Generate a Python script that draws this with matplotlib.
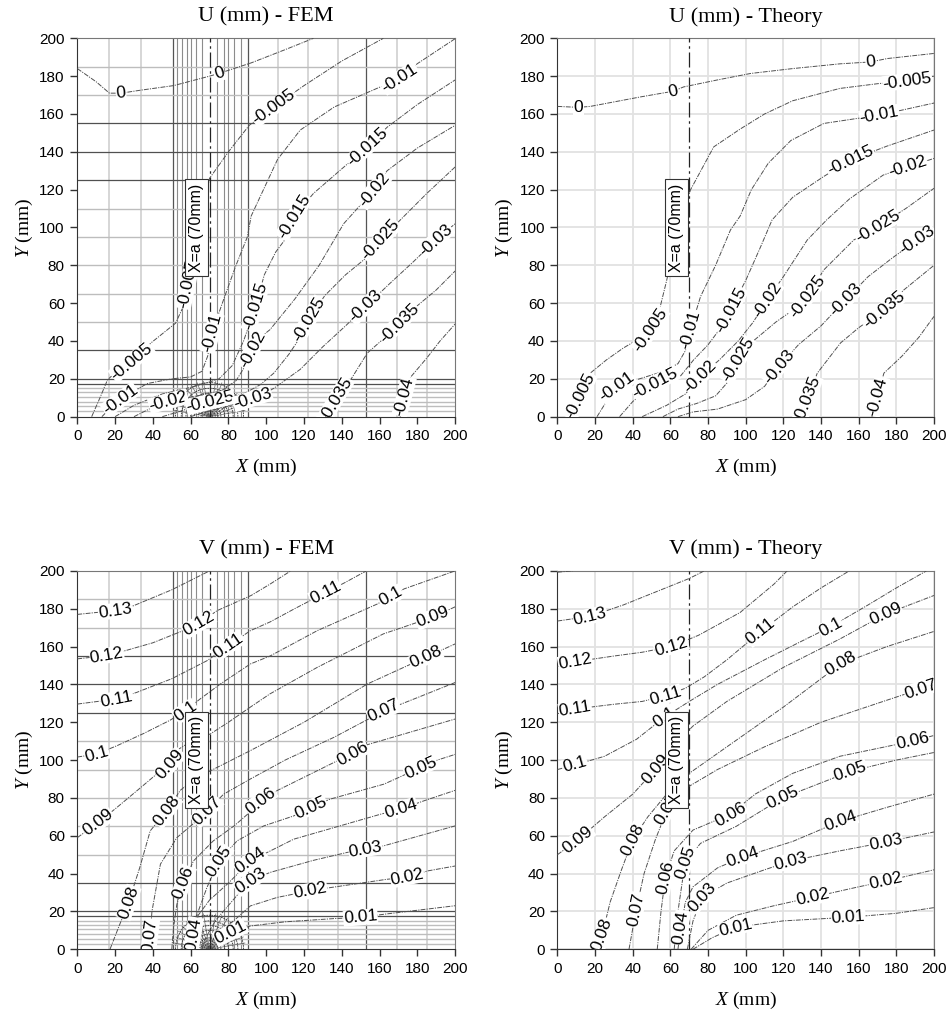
import numpy as np
import matplotlib.pyplot as plt

plt.rcParams['font.family'] = ['Liberation Sans', 'DejaVu Sans']
plt.rcParams['mathtext.fontset'] = 'custom'
plt.rcParams['mathtext.it'] = 'Liberation Serif:italic'
plt.rcParams['mathtext.rm'] = 'Liberation Serif'

# =========================================================
# Contour traces: level -> (x, y) in mm
# and the vertex index where each inline label sits
# =========================================================
u_fem = {
    "0": [(0,184),(10,177),(17,171),(23.2,171),(33,172.5),(51,175),(70,180),(75.2,181.5),(92,187),(110,194),(125,200)],
    "-0.005": [(7.6,0),(12,10),(16,19.5),(22,25),(28.8,29.2),(39,39),(52,49.4),(56,58),(58.5,70),(63,92),(70,126),(80,140),(91,154),(104,163.7),(120,175),(140,188),(162,200)],
    "-0.01": [(13,0),(17,4),(22.7,9),(30,13.5),(37,17.5),(50,20),(60,21),(66,24),(69,32),(71.3,44.2),(75,55),(78,63.5),(84,80),(90,95),(92,106),(106,136),(118,151.5),(136,163.7),(162,175),(170.7,178.9),(180,186.6),(200,199.8)],
    "-0.015": [(20,0),(30,6),(45,12),(58,15),(66,17),(75,20),(82,27),(88,40),(94.3,58.2),(99,75),(105,87),(111,95),(114.7,105.7),(125,118),(140,131),(153.5,142.6),(164,153),(180,165),(200,178)],
    "-0.02": [(30,0),(40,5),(48.2,8.2),(58,10),(66,11.5),(76,13.5),(84,19),(89,27),(92.5,35.4),(97,42),(102,46),(115,62),(128,80),(141,102),(157,119.8),(164,130),(180,142),(200,154)],
    "-0.025": [(45,0),(55,3),(62,5.5),(70.4,7.9),(78,9.5),(88,12),(97,17),(104,23),(112,33),(118,42),(122.5,51.2),(131,64),(142,75),(153,84),(160.6,93.4),(171,104),(185,118),(200,132)],
    "-0.03": [(60,0),(66,2),(72,3.5),(80,5.5),(87,8),(92.7,9.5),(98,11.5),(104,15),(118,25),(130,37),(142,48),(152.6,58.2),(165,70),(178,82),(189.8,93.4),(200,102)],
    "-0.035": [(133,0),(136.7,9),(145,20),(153.5,33.6),(163,42),(170.3,49.4),(178,57),(190,67),(200,77)],
    "-0.04": [(171,0),(173,10.7),(176.5,21),(185,31),(192,40),(200,49)],
}
u_fem_lab = {"0": [3, 7], "-0.005": [4, 8, 13], "-0.01": [2, 9, 19], "-0.015": [8, 12, 15],
             "-0.02": [2, 8, 14], "-0.025": [3, 10, 14], "-0.03": [5, 11, 14],
             "-0.035": [1, 5], "-0.04": [1]}

u_th = {
    "0": [(0,164),(11.2,163.5),(17.4,164),(44,169),(61.4,172),(67,174.3),(85,178),(102.5,181.4),(125,184),(150,186.5),(166.3,187.5),(175.2,189.3),(200,192)],
    "-0.005": [(5,0),(9,6),(12,11),(17.4,23),(26,30),(35,36.3),(43,41),(49.3,45.9),(54.6,58.2),(58,72),(63,95),(70.6,119.8),(83,142.6),(97,152),(110,160),(125,167),(150,173.5),(170,176),(185.8,177.5),(200,180)],
    "-0.01": [(21,0),(26,8),(31.6,16),(42,19.5),(56.4,24),(64,28),(68,35),(70.6,45.9),(76,63.5),(84,80),(91.9,98.7),(97,106),(103,120),(112,134),(124,146),(141.5,155),(171,159.4),(201,166)],
    "-0.015": [(33,0),(40,8),(52,17.8),(65.2,21.3),(72.3,30),(80,38),(86,46),(91.9,56.5),(100,72),(108,90),(114,104),(125,116),(141.5,127),(155.6,135.6),(175,143),(200,151.5)],
    "-0.02": [(45,0),(58,6),(68,12),(75.9,21.3),(86,30),(96,40),(104,50),(111.4,61.7),(120,74),(132.7,93.4),(143,104),(155,115),(173,127.7),(186,132),(200,136.5)],
    "-0.025": [(56,0),(64,4),(74,7),(84,11),(92,20),(96,30),(104,40),(116,50),(126,57),(132.7,63.5),(141.5,77.6),(157.4,93.4),(170,100.4),(185,110),(200,120.7)],
    "-0.03": [(64,0),(72,2.5),(85,4),(100,9),(110,16),(117.6,26.5),(128,38),(140,48),(153,61.7),(165,74),(178,84),(191.2,93.4),(200,99)],
    "-0.035": [(129,0),(132.7,9),(138,23),(150.4,39),(160,47),(173.4,56.5),(184,67),(200,80)],
    "-0.04": [(167,0),(169.9,10.7),(173.4,23),(183,32),(192,42),(200,53)],
}
u_th_lab = {"0": [1, 4, 10], "-0.005": [2, 7, 18], "-0.01": [2, 7, 16], "-0.015": [2, 7, 13],
            "-0.02": [3, 7, 13], "-0.025": [5, 9, 12], "-0.03": [5, 8, 11],
            "-0.035": [1, 5], "-0.04": [1]}

v_fem = {
    "0.13": [(0,177),(20,179),(29.8,181.6),(50,190),(68.6,199.3),(70,200)],
    "0.12": [(0,153.5),(15.6,155.2),(26,158),(40,162),(56,168.4),(64.2,172),(74,179),(92,187),(102,193),(113,200)],
    "0.11": [(0,129.6),(20.9,132.3),(31.5,135.8),(50,143),(68.6,152.5),(80.1,160.5),(91.6,168.4),(102,173),(115,180),(131.4,188.5),(142,194),(153,200)],
    "0.1": [(0,101.6),(10.3,103.2),(21,107.6),(35,114),(49,121),(57.1,126),(65,132.3),(75.7,140.2),(91.6,150.8),(102,155),(127,168.4),(158.8,182.5),(165.8,186.5),(173,190.5),(200,200)],
    "0.09": [(0,59),(11.1,67),(21,75),(33,85),(44,94.3),(49.2,97.9),(54,106),(62,111),(70.4,113.8),(80,120),(91.6,128),(102,135),(127,149),(162,166.7),(188,175.5),(200,181)],
    "0.08": [(17.3,0),(22,12),(27.1,24.7),(33,43),(38.6,62.6),(47.4,73.2),(54.5,84),(62,90),(70.4,94.3),(91.6,105),(120,120),(153.5,140.2),(184.4,154.3),(200,161.4)],
    "0.07": [(37,0),(38.6,7),(39.5,20),(44,45),(52.7,59),(63.3,68),(68.6,73.2),(77.5,82),(91.6,90),(110,100),(135.8,112),(162.3,126),(180,133),(200,141)],
    "0.06": [(50,0),(51,12),(52.7,23.8),(56.2,35.3),(61.5,46.7),(72,57.3),(83,65.2),(92,73),(96.9,78.5),(106,84),(137.6,99.6),(145.6,103.2),(151.7,107.6),(200,121.7)],
    "0.05": [(56,0),(60,10),(64,20),(68.6,32.6),(74.8,46.7),(84.6,57.3),(98.7,65.2),(114.6,70.5),(123.4,75),(134,79.4),(162.4,87.3),(181.8,96.1),(190.6,100),(200,103)],
    "0.04": [(61,0),(61.5,7.9),(64,18),(70,26),(80,35),(91.6,46.7),(105.8,53.8),(114.6,58.2),(160.6,71.4),(171.2,74.1),(183.6,78.5),(200,84)],
    "0.03": [(66,0),(68,6),(73,15),(79,22),(85,29),(91.6,36.1),(102,40.6),(125,47),(142.9,51.2),(152.6,52.9),(162.3,54.7),(200,65.2)],
    "0.02": [(69,0),(72,5),(78,11),(85,17),(91.6,22.9),(105.8,27.4),(123.4,30.9),(134,32.6),(164,37),(174.7,38),(185.4,41.4),(200,44)],
    "0.01": [(71,0),(75,4),(81,8.8),(91.6,12.3),(110,14.5),(135.8,16.2),(149.9,16.8),(162.3,18.5),(200,23)],
}
v_fem_lab = {"0.13": [1], "0.12": [1, 5], "0.11": [1, 5, 9], "0.1": [1, 5, 12],
             "0.09": [1, 5, 14], "0.08": [2, 5, 12], "0.07": [1, 6, 11], "0.06": [3, 8, 11],
             "0.05": [4, 8, 11], "0.04": [1, 5, 9], "0.03": [5, 9], "0.02": [6, 9], "0.01": [2, 6]}

v_th = {
    "0.14": [(0,199.3),(8,200)],
    "0.13": [(0,173.5),(17.4,176),(35,182),(55,190),(70,196),(78,200)],
    "0.12": [(0,149.5),(9.4,152),(30,155),(45,157),(60.5,160),(75,166),(97,178),(115,193),(122,200)],
    "0.11": [(0,124.5),(9.4,127),(30,129.5),(45,131),(57.3,134),(68,138),(78,144),(90,153),(108,168),(125,181),(140,191),(155,200)],
    "0.1": [(0,95),(9.4,97.5),(25,102),(42,111),(57,122.8),(70,131),(85,140),(110,153),(130,163),(145,170.4),(165,182),(180,191),(196,200)],
    "0.09": [(0,50),(11,58),(25,70),(40,82),(52,95),(62,108),(72,118),(90,131),(120,149),(150,164),(174.3,177.2),(200,187)],
    "0.08": [(19,0),(23.8,7.9),(28,25),(34,42),(40,58),(48,70),(58,82),(70,93),(90,107),(120,128),(150.4,150.8),(175,160),(200,168)],
    "0.07": [(38,0),(41.8,21),(46,40),(52,58),(58.4,74),(68,85),(85,95),(110,107),(140,120),(170,130),(193,137.6),(200,140)],
    "0.06": [(53,0),(55,20),(57.3,38),(62,52),(72,63),(91.8,71.4),(105,82),(125,93),(150,102),(188.6,110),(200,113)],
    "0.05": [(62,0),(64,20),(67.8,46),(76,56),(95,65),(119.5,80),(155.6,94),(180,100),(200,104)],
    "0.04": [(64,0),(65.5,11.6),(68,25),(72,33),(85,43),(98.3,48.7),(125,57),(150.4,67.7),(175,75),(200,82)],
    "0.03": [(69,0),(72,15),(76.9,27.5),(90,35),(110,42),(123.8,46.6),(150,52),(174.3,56.6),(200,62)],
    "0.02": [(71,0),(80,10),(95,18),(115,23),(135.4,27.5),(160,33),(174.3,36),(200,42)],
    "0.01": [(72,0),(82,6),(94.5,11.6),(120,15),(154.5,16.9),(180,19),(200,22)],
}
v_th_lab = {"0.14": [], "0.13": [1], "0.12": [1, 4], "0.11": [1, 4, 8], "0.1": [1, 4, 9],
            "0.09": [1, 4, 10], "0.08": [1, 4, 10], "0.07": [1, 4, 10], "0.06": [2, 5, 9],
            "0.05": [2, 5, 6], "0.04": [1, 5, 7], "0.03": [2, 5, 7], "0.02": [4, 6], "0.01": [2, 4]}

# FEM mesh lines (mm)
mesh_x_dark = [50.5, 90.5, 153]
mesh_x_mid = [53, 55.5, 58, 60, 63, 66, 74, 77.5, 80, 83, 86.5]
mesh_x_light = [17, 33.5, 106, 122, 138, 169, 185]
mesh_y_dark = [155, 140, 125, 35, 20, 17.5]
mesh_y_light = [185, 170, 110, 95, 80, 65, 50, 15, 13, 10.5, 8, 5.5, 3]
fan_radii = [1.5, 3, 4.5, 6, 8, 10, 12.5, 15, 18]
fan_angles = np.arange(0, 181, 10)

TICKS = np.arange(0, 201, 20)


def draw_contours(ax, traces, labels):
    for lvl, pts in traces.items():
        xs = [p[0] for p in pts]
        ys = [p[1] for p in pts]
        ax.plot(xs, ys, color='#505050', lw=0.7, dashes=(5, 1.2, 1.2, 1.2), zorder=3)
        for i in labels[lvl]:
            a = ax.transData.transform(pts[max(i - 1, 0)])
            b = ax.transData.transform(pts[min(i + 1, len(pts) - 1)])
            ang = np.degrees(np.arctan2(b[1] - a[1], b[0] - a[0]))
            if ang > 90:
                ang -= 180
            if ang < -90:
                ang += 180
            ax.text(pts[i][0], pts[i][1], lvl, rotation=ang, rotation_mode='anchor',
                    ha='center', va='center', fontsize=12.5, zorder=4, clip_on=True,
                    bbox=dict(fc='white', ec='none', pad=0.2))


def draw_mesh(ax):
    for x in mesh_x_light:
        ax.axvline(x, color='#cfcfcf', lw=1.2, zorder=1)
    for x in mesh_x_mid:
        ax.axvline(x, color='#8c8c8c', lw=0.8, zorder=1)
    for x in mesh_x_dark:
        ax.axvline(x, color='#555555', lw=0.9, zorder=1)
    for y in mesh_y_light:
        ax.axhline(y, color='#bdbdbd', lw=1.0, zorder=1)
    for y in mesh_y_dark:
        ax.axhline(y, color='#505050', lw=0.9, zorder=1)
    th = np.radians(np.linspace(0, 180, 60))
    for r in fan_radii:
        ax.plot(70 + r * np.cos(th), r * np.sin(th), color='#333333', lw=0.6,
                dashes=(2, 1), zorder=3)
    for a in np.radians(fan_angles):
        ax.plot([70, 70 + 19 * np.cos(a)], [0, 19 * np.sin(a)], color='#666666',
                lw=0.5, zorder=2)


def panel(rect, traces, labels, title, fem):
    ax = fig.add_axes(rect)
    ax.set_xlim(0, 200)
    ax.set_ylim(0, 200)
    ax.set_xticks(TICKS)
    ax.set_yticks(TICKS)
    ax.tick_params(direction='out', length=5, width=1, labelsize=11, pad=4,
                   color='#333333')
    for s in ['left', 'bottom']:
        ax.spines[s].set_color('#333333')
    for s in ['top', 'right']:
        ax.spines[s].set_color('#777777')
    if fem:
        draw_mesh(ax)
    else:
        ax.grid(True, color='#e2e2e2', lw=1.3, zorder=0)
        ax.set_axisbelow(True)
    # x = a line and its tag
    ax.plot([70, 70], [0, 200], color='#222222', lw=0.9, dashes=(12, 3, 2, 3), zorder=3)
    ax.text(63, 100, 'X=a (70mm)', rotation=90, ha='center', va='center', fontsize=11.5,
            zorder=6, bbox=dict(fc='white', ec='#333333', lw=0.8, boxstyle='square,pad=0.25'))
    draw_contours(ax, traces, labels)
    ax.set_title(title, family='Liberation Serif', fontsize=16, pad=12)
    ax.set_xlabel(r'$X$ (mm)', family='Liberation Serif', fontsize=14, labelpad=10)
    ax.set_ylabel(r'$Y$ (mm)', family='Liberation Serif', fontsize=14, labelpad=3)
    return ax


fig = plt.figure(figsize=(9.51, 10.16), dpi=100)
panel([0.0813, 0.5899, 0.3973, 0.3724], u_fem, u_fem_lab, 'U (mm) - FEM', True)
panel([0.5862, 0.5899, 0.3959, 0.3724], u_th, u_th_lab, 'U (mm) - Theory', False)
panel([0.0813, 0.0657, 0.3973, 0.3724], v_fem, v_fem_lab, 'V (mm) - FEM', True)
panel([0.5862, 0.0657, 0.3959, 0.3724], v_th, v_th_lab, 'V (mm) - Theory', False)

fig.savefig('out.png', dpi=100)
